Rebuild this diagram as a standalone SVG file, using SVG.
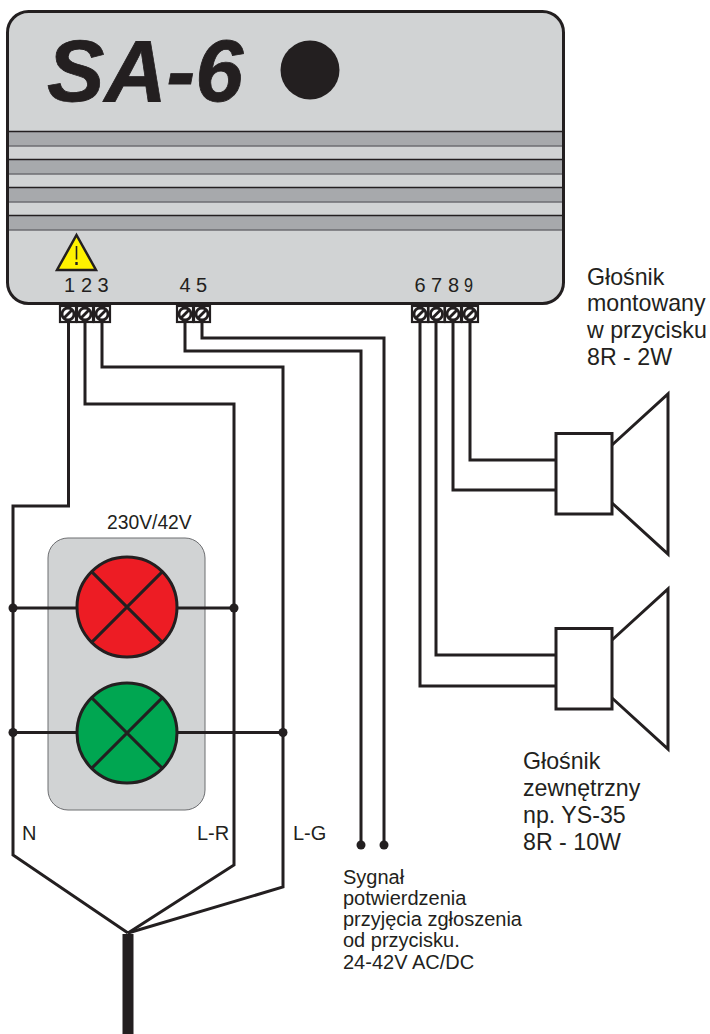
<svg xmlns="http://www.w3.org/2000/svg" width="710" height="1034" viewBox="0 0 710 1034">
<defs>
<style>
text{font-family:"Liberation Sans",Arial,sans-serif;fill:#231f20}
.w{fill:none;stroke:#231f20;stroke-width:3}
.s{fill:#fff;stroke:#231f20;stroke-width:3}
.lbl{font-size:23.2px}
.num{font-size:20px}
.sm{font-size:20px}
.d{fill:#231f20}
</style>
<g id="t"><rect x="-8" y="-8" width="16" height="16" fill="#fff" stroke="#231f20" stroke-width="2.200"/><circle r="6" fill="#fff" stroke="#231f20" stroke-width="2.800"/><path d="M-4 4L4-4" stroke="#231f20" stroke-width="2.800"/></g>
</defs>
<g id="device">
<rect x="7.500" y="11.500" width="556" height="292" rx="21" fill="#d1d3d4" stroke="#231f20" stroke-width="3"/>
<g fill="#a7a9ac" stroke-width="1.300">
<rect x="9" y="131.500" width="553" height="14.500" stroke="none"/><rect x="9" y="159.500" width="553" height="14.500" stroke="none"/><rect x="9" y="187.500" width="553" height="14.500" stroke="none"/><rect x="9" y="215.500" width="553" height="14.500" stroke="none"/>
<path d="M9 131.500H562M9 159.500H562M9 187.500H562M9 215.500H562" stroke="#231f20" fill="none"/>
<path d="M9 146H562M9 174H562M9 202H562M9 230H562" stroke="#6d6e71" fill="none"/>
</g>
<text x="47" y="100.500" font-size="87" font-weight="700" font-style="italic" stroke="#231f20" stroke-width="0.800" textLength="196" lengthAdjust="spacingAndGlyphs">SA-6</text>
<circle cx="310" cy="70" r="29.500" fill="#231f20"/>
<path d="M76.500 235L96 270H57Z" fill="#fff200" stroke="#231f20" stroke-width="2.500"/>
<path d="M76.500 246L76.500 259.500" stroke="#231f20" stroke-width="1.600"/><rect x="75.300" y="262" width="2.400" height="3" fill="#231f20"/>
<text class="num" x="64" y="292">1</text><text class="num" x="81" y="292">2</text><text class="num" x="97.500" y="292">3</text>
<text class="num" x="179.500" y="292">4</text><text class="num" x="196" y="292">5</text>
<text class="num" x="414.500" y="292">6</text><text class="num" x="431" y="292">7</text><text class="num" x="448" y="292">8</text><text class="num" x="464" y="292" textLength="9" lengthAdjust="spacingAndGlyphs">9</text>
</g>
<g id="connectors">
<path class="w" d="M68.500 322V506H13V855L128 933"/>
<path class="w" d="M85 322V404H234V865L128 933"/>
<path class="w" d="M102 322V367H283V887L128 933"/>
<path class="w" d="M185 322V351H361V845"/>
<path class="w" d="M202 322V338H384V845"/>
<path class="w" d="M420 322V686H556"/>
<path class="w" d="M436 322V655H556"/>
<path class="w" d="M453 322V490H556"/>
<path class="w" d="M470 322V460H556"/>
<path d="M128 934V1034" stroke="#231f20" stroke-width="11" fill="none"/>
</g>
<g id="terminals">
<use href="#t" x="68" y="314"/><use href="#t" x="85" y="314"/><use href="#t" x="102" y="314"/>
<use href="#t" x="185" y="314"/><use href="#t" x="202" y="314"/>
<use href="#t" x="420" y="314"/><use href="#t" x="436.500" y="314"/><use href="#t" x="453" y="314"/><use href="#t" x="470" y="314"/>
</g>
<g id="lamps">
<rect x="48" y="538" width="157" height="272" rx="20" fill="#d1d3d4" stroke="#6d6e71" stroke-width="1"/>
<path class="w" d="M13 608H77M177 608H234M13 732.500H77M177 732.500H283"/>
<g id="lamp-red"><circle cx="127" cy="607" r="50" fill="#ed1c24" stroke="#231f20" stroke-width="3"/><path class="w" d="M91.600 571.600L162.400 642.400M162.400 571.600L91.600 642.400"/></g>
<g id="lamp-green"><circle cx="127" cy="733" r="50" fill="#00a651" stroke="#231f20" stroke-width="3"/><path class="w" d="M91.600 697.600L162.400 768.400M162.400 697.600L91.600 768.400"/></g>
<circle class="d" cx="13" cy="608" r="4.500"/><circle class="d" cx="234" cy="608" r="4.500"/><circle class="d" cx="13" cy="732.500" r="4.500"/><circle class="d" cx="283" cy="732.500" r="4.500"/>
<circle class="d" cx="361" cy="845" r="4.500"/><circle class="d" cx="384" cy="845" r="4.500"/>
<text x="107" y="528.500" style="font-size:19.300px">230V/42V</text>
<text class="sm" x="22" y="840">N</text><text class="sm" x="197" y="840">L-R</text><text class="sm" x="293" y="840">L-G</text>
</g>
<g id="speaker-1"><path class="s" d="M612 445L668 394V554L612 503"/><rect class="s" x="556" y="433.500" width="56" height="80.500"/></g>
<g id="speaker-2"><path class="s" d="M612 640L668 589V749L612 698"/><rect class="s" x="556" y="628.500" width="56" height="80.500"/></g>
<g id="labels">
<text class="lbl" x="587" y="285">Głośnik</text><text class="lbl" x="587" y="311">montowany</text><text class="lbl" x="587" y="338">w przycisku</text><text class="lbl" x="587" y="365">8R - 2W</text>
<text class="lbl" x="523" y="769">Głośnik</text><text class="lbl" x="523" y="796">zewnętrzny</text><text class="lbl" x="523" y="823">np. YS-35</text><text class="lbl" x="523" y="850">8R - 10W</text>
<text class="sm" x="343" y="883.500">Sygnał</text><text class="sm" x="343" y="904.500">potwierdzenia</text><text class="sm" x="343" y="925.500">przyjęcia zgłoszenia</text><text class="sm" x="343" y="946.500">od przycisku.</text><text class="sm" x="343" y="968.500">24-42V AC/DC</text>
</g>
</svg>
